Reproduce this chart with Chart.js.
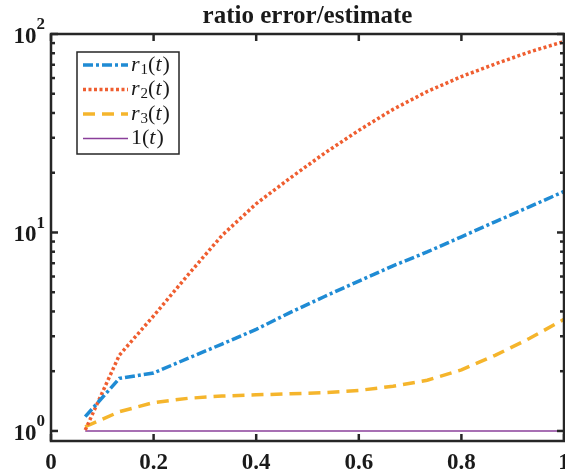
<!DOCTYPE html>
<html>
<head>
<meta charset="utf-8">
<script src="https://cdn.jsdelivr.net/npm/chart.js@4.4.1/dist/chart.umd.min.js"></script>
<style>
    html, body { margin: 0; padding: 0; background: #fff; }
    #wrap { width: 565px; height: 474px; }
</style>
</head>
<body>
<div id="wrap"><canvas id="ratioChart"></canvas></div>
<script>
// Sample points t = k/15
const tValues = [0.0667, 0.1333, 0.2, 0.2667, 0.3333, 0.4, 0.4667, 0.5333, 0.6, 0.6667, 0.7333, 0.8, 0.8667, 0.9333, 1.0];

// Series
const r1Values = [1.18, 1.84, 1.96, 2.32, 2.74, 3.25, 3.96, 4.76, 5.69, 6.79, 7.98, 9.51, 11.35, 13.49, 16.1];
const r2Values = [1.01, 2.41, 3.8, 6.1, 9.66, 13.96, 18.84, 25.1, 32.7, 41.7, 51.3, 61.0, 70.8, 81.3, 91.6];
const r3Values = [1.05, 1.25, 1.39, 1.46, 1.5, 1.52, 1.54, 1.56, 1.6, 1.68, 1.8, 2.03, 2.41, 2.93, 3.65];
const oneValues = [1, 1, 1, 1, 1, 1, 1, 1, 1, 1, 1, 1, 1, 1, 1];

const seriesLabels = ["r₁(t)", "r₂(t)", "r₃(t)", "1(t)"];
const seriesColors = ["#1f8bd4", "#ef5e30", "#f5b52c", "#8a3f9a"];

// Axis ticks
const xTicks = [0, 0.2, 0.4, 0.6, 0.8, 1];
const yDecades = [1, 10, 100];

const axisColor = "#262626";
const serif = "'Liberation Serif', 'DejaVu Serif', serif";

const toPoints = (vals) => tValues.map((t, i) => ({ x: t, y: vals[i] }));

// draw a label like r₁(t) in math style: letters italic, digits/parens upright
const subDigits = { "₀": "0", "₁": "1", "₂": "2", "₃": "3" };
const drawMathLabel = (ctx, text, x, y) => {
    ctx.textBaseline = "middle";
    ctx.textAlign = "left";
    for (const ch of text) {
        let size = 22, dy = 0, style = "normal", c = ch;
        if (subDigits[ch]) {
            c = subDigits[ch];
            size = 15;
            dy = 5;
        } else if (/[a-z]/.test(ch)) {
            style = "italic";
        }
        ctx.font = `${style} ${size}px ${serif}`;
        ctx.fillText(c, x, y + dy);
        x += ctx.measureText(c).width + (style === "italic" ? 1 : 0);
    }
};

// MATLAB-ish axes: box, inside ticks, y labels and legend
const matlabAxes = {
    id: "matlabAxes",
    afterDatasetsDraw(chart) {
        const ctx = chart.ctx;
        const { left, right, top, bottom } = chart.chartArea;
        const xs = chart.scales.x;
        const ys = chart.scales.y;
        const line = (x1, y1, x2, y2) => {
            ctx.beginPath();
            ctx.moveTo(x1, y1);
            ctx.lineTo(x2, y2);
            ctx.stroke();
        };

        ctx.save();
        ctx.strokeStyle = axisColor;
        ctx.lineWidth = 2.5;
        ctx.setLineDash([]);

        xs.ticks.forEach((t) => {
            const px = xs.getPixelForValue(t.value);
            line(px, bottom, px, bottom - 7);
            line(px, top, px, top + 7);
        });

        ys.ticks.forEach((t) => {
            const v = t.value;
            if (v < ys.min || v > ys.max) return;
            const e = Math.floor(Math.log10(v) + 1e-9);
            const sig = v / Math.pow(10, e);
            if (Math.abs(sig - Math.round(sig)) > 1e-6) return;
            const len = Math.round(sig) === 1 ? 7 : 4;
            const py = ys.getPixelForValue(v);
            line(left, py, left + len, py);
            line(right, py, right - len, py);
        });

        ctx.strokeRect(left, top, right - left, bottom - top);

        // y tick labels 10^k
        ctx.fillStyle = "#1a1a1a";
        yDecades.forEach((v) => {
            const py = ys.getPixelForValue(v);
            const exp = String(Math.round(Math.log10(v)));
            ctx.font = `bold 17px ${serif}`;
            const ew = ctx.measureText(exp).width;
            ctx.font = `bold 23px ${serif}`;
            const bw = ctx.measureText("10").width;
            const xr = left - 6;
            ctx.textBaseline = "middle";
            ctx.textAlign = "left";
            ctx.fillText("10", xr - ew - bw, py + 3);
            ctx.font = `bold 17px ${serif}`;
            ctx.fillText(exp, xr - ew, py - 9);
        });

        // legend box
        const lx = left + 26;
        const ly = top + 18;
        ctx.fillStyle = "#fff";
        ctx.fillRect(lx, ly, 102, 102);
        ctx.lineWidth = 1.5;
        ctx.strokeRect(lx, ly, 102, 102);

        chart.data.datasets.forEach((ds, i) => {
            const cy = ly + 13 + i * 24.5;
            ctx.strokeStyle = ds.borderColor;
            ctx.lineWidth = ds.borderWidth;
            ctx.setLineDash(ds.borderDash || []);
            line(lx + 6, cy, lx + 51, cy);
            ctx.setLineDash([]);
            ctx.fillStyle = "#1a1a1a";
            drawMathLabel(ctx, ds.label, lx + 54, cy);
        });
        ctx.restore();
    },
};

const makeSet = (i, vals, width, dash) => ({
    label: seriesLabels[i],
    data: toPoints(vals),
    borderColor: seriesColors[i],
    backgroundColor: seriesColors[i],
    borderWidth: width,
    borderDash: dash,
    borderCapStyle: "butt",
    pointRadius: 0,
    tension: 0,
    fill: false,
});

new Chart(document.getElementById("ratioChart"), {
    type: "line",
    data: {
        datasets: [
            makeSet(0, r1Values, 3.5, [10, 3, 3, 3]),
            makeSet(1, r2Values, 3.5, [3, 2.5]),
            makeSet(2, r3Values, 3.5, [12, 7]),
            makeSet(3, oneValues, 1.5, []),
        ],
    },
    options: {
        responsive: true,
        maintainAspectRatio: false,
        animation: false,
        devicePixelRatio: 1,
        layout: { padding: { left: 0, right: 1, top: 0, bottom: 0 } },
        plugins: {
            legend: { display: false },
            tooltip: { enabled: false },
            title: {
                display: true,
                text: "ratio error/estimate",
                color: "#1a1a1a",
                fullSize: false,
                font: { family: serif, size: 25, weight: "bold", lineHeight: 1.2 },
                padding: { top: 2, bottom: 2 },
            },
        },
        scales: {
            x: {
                type: "linear",
                min: 0,
                max: 1,
                grid: { display: false, drawTicks: false },
                border: { display: false },
                ticks: {
                    color: "#1a1a1a",
                    font: { family: serif, size: 23, weight: "bold" },
                    padding: 8,
                    maxRotation: 0,
                    autoSkip: false,
                    callback: (v) => String(Number(v.toFixed(1))),
                },
                afterBuildTicks: (s) => {
                    s.ticks = xTicks.map((v) => ({ value: v }));
                },
                afterFit: (s) => {
                    s.height = 33;
                    s.paddingRight = 0;
                    s.paddingLeft = 0;
                },
            },
            y: {
                type: "logarithmic",
                min: 0.89,
                max: 100,
                grid: { display: false, drawTicks: false },
                border: { display: false },
                ticks: { display: false },
                afterFit: (s) => {
                    s.width = 51;
                },
            },
        },
    },
    plugins: [matlabAxes],
});
</script>
</body>
</html>
